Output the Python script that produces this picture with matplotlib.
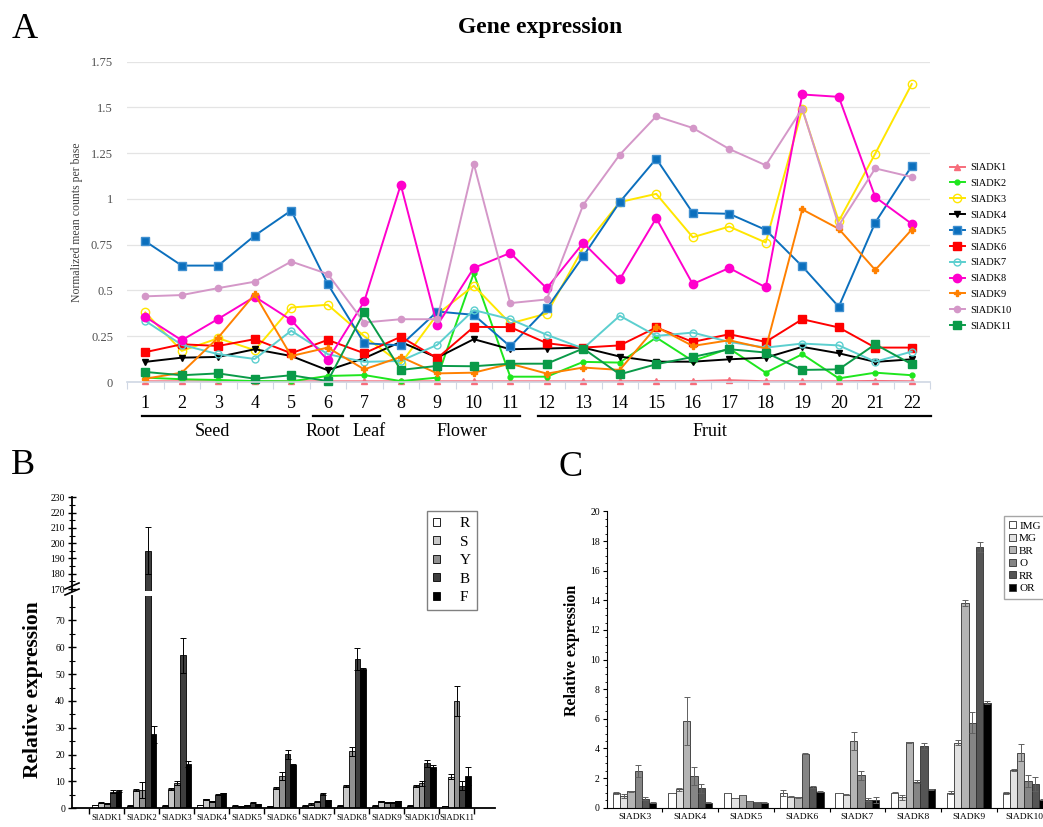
import matplotlib
matplotlib.use("Agg")
import matplotlib.pyplot as plt
import matplotlib.transforms as mtransforms
from matplotlib.lines import Line2D
import numpy as np

plt.rcParams['font.family'] = ['Liberation Serif', 'DejaVu Serif']

# ---------------- panel A data ----------------
samples = list(range(1, 23))
adk1 = [0.004, 0.004, 0.004, 0.004, 0.004, 0.004, 0.004, 0.004, 0.004, 0.004, 0.004,
        0.004, 0.004, 0.004, 0.005, 0.005, 0.01, 0.004, 0.004, 0.004, 0.006, 0.004]
adk2 = [0.024, 0.015, 0.011, 0.005, 0.004, 0.033, 0.038, 0.005, 0.024, 0.594, 0.029,
        0.029, 0.11, 0.106, 0.243, 0.115, 0.183, 0.051, 0.152, 0.02, 0.051, 0.037]
adk3 = [0.38, 0.17, 0.239, 0.174, 0.407, 0.422, 0.25, 0.1, 0.37, 0.526, 0.32,
        0.374, 0.733, 0.983, 1.028, 0.791, 0.849, 0.762, 1.49, 0.879, 1.248, 1.628]
adk4 = [0.11, 0.133, 0.137, 0.179, 0.142, 0.064, 0.13, 0.219, 0.133, 0.234, 0.179,
        0.183, 0.188, 0.139, 0.111, 0.111, 0.124, 0.133, 0.192, 0.157, 0.11, 0.124]
adk5 = [0.769, 0.636, 0.636, 0.80, 0.937, 0.535, 0.212, 0.20, 0.385, 0.367, 0.194,
        0.402, 0.687, 0.983, 1.22, 0.924, 0.919, 0.831, 0.632, 0.411, 0.871, 1.18]
adk6 = [0.163, 0.206, 0.197, 0.234, 0.157, 0.23, 0.157, 0.247, 0.13, 0.301, 0.30,
        0.212, 0.188, 0.20, 0.298, 0.219, 0.261, 0.219, 0.343, 0.298, 0.188, 0.188]
adk7 = [0.334, 0.203, 0.152, 0.126, 0.28, 0.152, 0.11, 0.115, 0.203, 0.393, 0.343,
        0.258, 0.183, 0.362, 0.252, 0.27, 0.219, 0.188, 0.21, 0.20, 0.111, 0.166]
adk8 = [0.356, 0.228, 0.345, 0.466, 0.338, 0.119, 0.44, 1.078, 0.31, 0.623, 0.705,
        0.512, 0.76, 0.561, 0.895, 0.535, 0.623, 0.517, 1.571, 1.558, 1.01, 0.864]
adk9 = [0.018, 0.051, 0.243, 0.48, 0.142, 0.188, 0.069, 0.137, 0.047, 0.051, 0.10,
        0.046, 0.079, 0.066, 0.301, 0.197, 0.228, 0.183, 0.943, 0.837, 0.612, 0.833]
adk10 = [0.468, 0.475, 0.513, 0.548, 0.658, 0.59, 0.325, 0.343, 0.343, 1.193, 0.431,
         0.451, 0.968, 1.242, 1.452, 1.388, 1.273, 1.184, 1.494, 0.855, 1.167, 1.12]
adk11 = [0.055, 0.037, 0.047, 0.018, 0.037, 0.005, 0.384, 0.066, 0.088, 0.086, 0.10,
         0.10, 0.183, 0.042, 0.097, 0.137, 0.179, 0.161, 0.066, 0.069, 0.206, 0.097]
series_names = ['SlADK1', 'SlADK2', 'SlADK3', 'SlADK4', 'SlADK5', 'SlADK6',
                'SlADK7', 'SlADK8', 'SlADK9', 'SlADK10', 'SlADK11']
tissues = ['Seed', 'Root', 'Leaf', 'Flower', 'Fruit']
tissue_spans = [(0.91, 5.2), (5.59, 6.41), (6.64, 7.44), (8.0, 11.27), (11.76, 22.53)]
tissue_label_x = [2.83, 5.88, 7.14, 9.68, 16.48]

# ---------------- panel B data ----------------
genes_b = ['SlADK1', 'SlADK2', 'SlADK3', 'SlADK4', 'SlADK5', 'SlADK6',
           'SlADK7', 'SlADK8', 'SlADK9', 'SlADK10', 'SlADK11']
organs_b = ['R', 'S', 'Y', 'B', 'F']
b_R = [1.2, 1.0, 1.0, 1.2, 1.0, 0.7, 1.0, 1.0, 1.0, 1.0, 0.9]
b_S = [2.0, 6.8, 7.2, 3.3, 0.7, 7.6, 1.6, 8.2, 2.6, 8.2, 11.7]
b_Y = [1.8, 6.8, 9.4, 2.6, 1.1, 12.0, 2.5, 21.3, 2.2, 9.3, 40.0]
b_B = [6.2, 195.0, 57.0, 5.0, 2.1, 20.1, 5.4, 55.8, 2.2, 16.7, 8.4]
b_F = [6.5, 27.6, 16.4, 5.7, 1.5, 16.3, 3.0, 51.9, 2.8, 15.3, 12.0]
b_R_err = [0.1, 0.1, 0.1, 0.1, 0.1, 0.1, 0.1, 0.1, 0.1, 0.1, 0.1]
b_S_err = [0.2, 0.3, 0.3, 0.2, 0.1, 0.3, 0.2, 0.4, 0.2, 0.3, 0.9]
b_Y_err = [0.2, 3.0, 0.8, 0.2, 0.1, 1.5, 0.2, 1.7, 0.2, 0.9, 5.5]
b_B_err = [0.6, 15.5, 6.6, 0.2, 0.1, 1.7, 0.3, 4.1, 0.2, 1.2, 1.6]
b_F_err = [0.3, 3.1, 1.1, 0.1, 0.1, 0.3, 0.2, 0.5, 0.1, 1.0, 3.3]

# ---------------- panel C data ----------------
genes_c = ['SlADK3', 'SlADK4', 'SlADK5', 'SlADK6', 'SlADK7', 'SlADK8', 'SlADK9', 'SlADK10']
stages_c = ['IMG', 'MG', 'BR', 'O', 'RR', 'OR']
c_IMG = [1.0, 1.0, 1.0, 1.02, 1.0, 1.0, 1.02, 1.0]
c_MG = [0.8, 1.25, 0.65, 0.75, 0.88, 0.7, 4.4, 2.53]
c_BR = [1.1, 5.85, 0.85, 0.7, 4.5, 4.42, 13.8, 3.72]
c_O = [2.45, 2.15, 0.45, 3.65, 2.2, 1.74, 5.75, 1.83]
c_RR = [0.6, 1.3, 0.38, 1.4, 0.54, 4.17, 17.6, 1.6]
c_OR = [0.35, 0.35, 0.35, 1.08, 0.55, 1.24, 7.1, 0.55]
c_IMG_err = [0.05, 0.02, 0.02, 0.2, 0.02, 0.03, 0.12, 0.08]
c_MG_err = [0.15, 0.1, 0.02, 0.02, 0.03, 0.15, 0.15, 0.05]
c_BR_err = [0.02, 1.6, 0.02, 0.02, 0.6, 0.02, 0.2, 0.6]
c_O_err = [0.4, 0.6, 0.02, 0.05, 0.3, 0.1, 0.7, 0.4]
c_RR_err = [0.1, 0.3, 0.02, 0.05, 0.1, 0.18, 0.35, 0.5]
c_OR_err = [0.02, 0.02, 0.02, 0.02, 0.2, 0.02, 0.1, 0.02]

fig = plt.figure(figsize=(10.43, 8.27), dpi=100)
W, H = 1043.0, 827.0


def fx(px):
    return px / W


def fy(py):
    return 1 - py / H


# ================= panel A =================
ax = fig.add_axes([fx(127), fy(382), fx(930) - fx(127), fy(61.7) - fy(382)])
styles = [
    dict(color='#f76d7b', marker='^', ms=5, mfc='#f76d7b'),
    dict(color='#1ee61e', marker='o', ms=3.5, mfc='#1ee61e'),
    dict(color='#ffe600', marker='o', ms=6, mfc='none', mew=1.0),
    dict(color='#000000', marker='v', ms=4.5, mfc='#000000'),
    dict(color='#0b6fbd', marker='s', ms=6, mfc='#0b6fbd', mec='#3f8fd0'),
    dict(color='#ff0000', marker='s', ms=5.5, mfc='#ff0000'),
    dict(color='#5ccfcf', marker='o', ms=5, mfc='none', mew=1.0),
    dict(color='#ff00cc', marker='o', ms=6, mfc='#ff00cc'),
    dict(color='#ff8000', marker='P', ms=5, mfc='#ff8000'),
    dict(color='#d497c8', marker='o', ms=4.5, mfc='#d497c8'),
    dict(color='#0a9a48', marker='s', ms=6, mfc='#0a9a48'),
]
all_series = [adk1, adk2, adk3, adk4, adk5, adk6, adk7, adk8, adk9, adk10, adk11]
handles = []
for name, vals, st in zip(series_names, all_series, styles):
    h, = ax.plot(samples, vals, lw=1.4, label=name, clip_on=False, **st)
    handles.append(h)

ax.set_xlim(0.5, 22.5)
ax.set_ylim(0, 1.75)
ax.set_yticks([0, 0.25, 0.5, 0.75, 1, 1.25, 1.5, 1.75])
ax.set_yticklabels(['0', '0.25', '0.5', '0.75', '1', '1.25', '1.5', '1.75'],
                   fontsize=9, color='#505050')
ax.yaxis.grid(True, color='#e4e4e4', lw=0.9)
ax.set_axisbelow(True)
ax.tick_params(axis='y', length=0, pad=10)
ax.set_xticks(samples)
ax.set_xticklabels([str(s) for s in samples], fontsize=13)
ax.set_xticks(np.arange(0.5, 23, 1), minor=True)
ax.tick_params(axis='x', which='major', length=0, pad=9)
ax.tick_params(axis='x', which='minor', length=5, color='#cfd7e4', width=0.8)
for s in ['top', 'right', 'left']:
    ax.spines[s].set_visible(False)
ax.spines['bottom'].set_color('#cfd7e4')
ax.spines['bottom'].set_linewidth(1.2)
ax.set_ylabel('Normalized mean counts per base', fontsize=8.5, color='#404040', labelpad=6)

trans = mtransforms.blended_transform_factory(ax.transData, ax.transAxes)
for (x0, x1), lab, lx in zip(tissue_spans, tissues, tissue_label_x):
    ax.plot([x0, x1], [-0.106, -0.106], color='black', lw=1.6, transform=trans, clip_on=False)
    ax.text(lx, -0.155, lab, transform=trans, ha='center', va='center', fontsize=13)

fig.legend(handles=handles, loc='upper left', bbox_to_anchor=(fx(950), fy(163)),
           frameon=False, fontsize=7.5, handlelength=1.4, handletextpad=0.5,
           labelspacing=0.63, borderpad=0, borderaxespad=0)

fig.text(0.518, fy(27), 'Gene expression', ha='center', va='center',
         fontsize=17, fontweight='bold')
fig.text(fx(25), fy(29), 'A', ha='center', va='center', fontsize=26)

# ================= panel B =================
b_vals = [b_R, b_S, b_Y, b_B, b_F]
b_errs = [b_R_err, b_S_err, b_Y_err, b_B_err, b_F_err]
b_cols = ['#ffffff', '#c8c8c8', '#909090', '#3e3e3e', '#000000']
xb = np.arange(1, len(genes_b) + 1)
bw = 0.166

left_b, right_b = fx(72), fx(495)
axb_lo = fig.add_axes([left_b, fy(808.3), right_b - left_b, fy(596.3) - fy(808.3)])
axb_hi = fig.add_axes([left_b, fy(591.3), right_b - left_b, fy(497.3) - fy(591.3)])
bar_handles = []
for a in (axb_lo, axb_hi):
    for i, (vals, errs, col) in enumerate(zip(b_vals, b_errs, b_cols)):
        bc = a.bar(xb + (i - 2) * bw, vals, bw, color=col, edgecolor='black', lw=0.6,
                   yerr=errs, ecolor='black', capsize=2.2,
                   error_kw=dict(elinewidth=0.7, capthick=0.7), label=organs_b[i])
        if a is axb_lo:
            bar_handles.append(bc)
    a.set_xlim(0, 12.1)
    a.spines['top'].set_visible(False)
    a.spines['right'].set_visible(False)
    a.spines['left'].set_linewidth(1.3)
    a.tick_params(axis='y', which='major', direction='inout', length=6, width=1.0,
                  labelsize=7, pad=2)
    a.tick_params(axis='y', which='minor', direction='inout', length=4, width=0.8)

axb_lo.set_ylim(0, 79)
axb_lo.set_yticks(np.arange(0, 71, 10))
axb_lo.set_yticks(np.arange(5, 79, 5), minor=True)
axb_lo.spines['bottom'].set_linewidth(1.3)
axb_lo.set_xticks(np.arange(0.5, 12, 1))
axb_lo.set_xticklabels([])
axb_lo.tick_params(axis='x', which='major', direction='out', length=4, width=1.0)
axb_lo.set_xticks(xb, minor=True)
axb_lo.set_xticklabels(genes_b, minor=True, fontsize=6.3)
axb_lo.tick_params(axis='x', which='minor', length=0, pad=4)

axb_hi.set_ylim(168.5, 230)
axb_hi.set_yticks(np.arange(170, 231, 10))
axb_hi.set_yticks(np.arange(175, 230, 5), minor=True)
axb_hi.spines['bottom'].set_visible(False)
axb_hi.set_xticks([])

for yy in (589, 595):
    fig.add_artist(Line2D([fx(65), fx(79)], [fy(yy), fy(yy - 6)], color='black', lw=1.2))

fig.legend(handles=bar_handles, loc='upper left', bbox_to_anchor=(fx(427), fy(511)),
           fontsize=11, handlelength=0.45, handleheight=0.45, handletextpad=1.3,
           labelspacing=0.36, borderpad=0.4, borderaxespad=0,
           fancybox=False, edgecolor='#808080', framealpha=1)

fig.text(fx(33), fy(690), 'Relative expression', rotation=90, ha='center', va='center',
         fontsize=15.5, fontweight='bold')
fig.text(fx(23), fy(465), 'B', ha='center', va='center', fontsize=26)

# ================= panel C =================
c_vals = [c_IMG, c_MG, c_BR, c_O, c_RR, c_OR]
c_errs = [c_IMG_err, c_MG_err, c_BR_err, c_O_err, c_RR_err, c_OR_err]
c_cols = ['#ffffff', '#e2e2e2', '#b4b4b4', '#858585', '#555555', '#000000']
xc = np.arange(1, len(genes_c) + 1)
cw = 0.131

axc = fig.add_axes([fx(606.7), fy(807.7), 8 * 55.7 / W, fy(510.7) - fy(807.7)])
c_handles = []
for i, (vals, errs, col) in enumerate(zip(c_vals, c_errs, c_cols)):
    bc = axc.bar(xc + (i - 2.5) * cw, vals, cw, color=col, edgecolor='#303030', lw=0.6,
                 yerr=errs, ecolor='#606060', capsize=2.2,
                 error_kw=dict(elinewidth=0.7, capthick=0.7), label=stages_c[i])
    c_handles.append(bc)
axc.set_xlim(0.5, 8.5)
axc.set_ylim(0, 20.05)
axc.set_yticks(np.arange(0, 21, 2))
axc.set_yticks(np.arange(0, 20.1, 0.5), minor=True)
axc.tick_params(axis='y', which='major', direction='out', length=3, labelsize=7, pad=2)
axc.tick_params(axis='y', which='minor', direction='out', length=1.5)
axc.set_xticks(np.arange(1.5, 8.5, 1))
axc.set_xticklabels([])
axc.tick_params(axis='x', which='major', direction='out', length=3)
axc.set_xticks(xc, minor=True)
axc.set_xticklabels(genes_c, minor=True, fontsize=6.8)
axc.tick_params(axis='x', which='minor', length=0, pad=4)
axc.spines['top'].set_visible(False)
axc.spines['right'].set_visible(False)

axc.legend(handles=c_handles, loc='upper left', bbox_to_anchor=(fx(998), fy(510)),
           bbox_transform=fig.transFigure, fontsize=8, handlelength=0.6,
           handleheight=0.6, handletextpad=0.3, labelspacing=0.28, borderpad=0.5,
           fancybox=False, edgecolor='#909090')

fig.text(fx(572), fy(650), 'Relative expression', rotation=90, ha='center', va='center',
         fontsize=11.5, fontweight='bold')
fig.text(fx(571), fy(467), 'C', ha='center', va='center', fontsize=26)

fig.savefig('out.png', dpi=100)
